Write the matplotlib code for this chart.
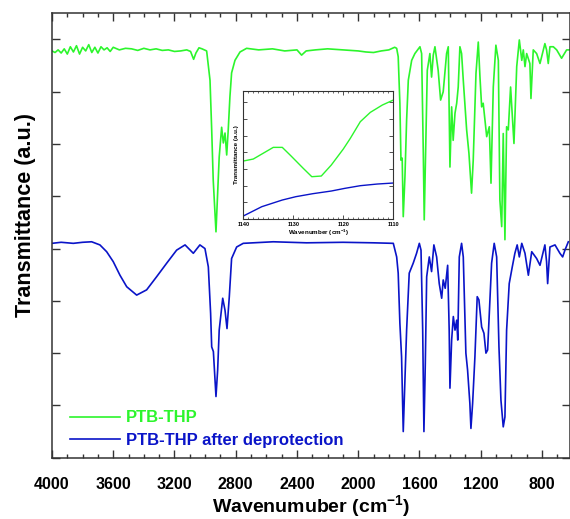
import numpy as np
import matplotlib
matplotlib.use('Agg')
import matplotlib.pyplot as plt
from matplotlib.ticker import MultipleLocator

plt.rcParams['font.family'] = ['Liberation Sans', 'DejaVu Sans']
plt.rcParams['font.weight'] = 'bold'
plt.rcParams['mathtext.fontset'] = 'custom'
plt.rcParams['mathtext.rm'] = 'Liberation Sans:bold'
plt.rcParams['mathtext.bf'] = 'Liberation Sans:bold'
plt.rcParams['mathtext.default'] = 'bf'

GREEN = '#2cf52c'
BLUE = '#0a14c8'

# PTB-THP spectrum (wavenumber cm-1, transmittance a.u.)
green_wn = [4000, 3980, 3960, 3940, 3920, 3900, 3880, 3860, 3840, 3820, 3800, 3780, 3760,
            3740, 3720, 3700, 3680, 3660, 3640, 3620, 3600, 3560, 3520, 3480, 3440, 3400,
            3360, 3320, 3280, 3240, 3200, 3160, 3120, 3095, 3075, 3060, 3040, 3020, 3005,
            2990, 2968, 2957, 2947, 2936, 2929, 2921, 2908, 2892, 2881, 2870, 2859, 2849,
            2838, 2827, 2805, 2772, 2729, 2650, 2560, 2480, 2400, 2370, 2340, 2280, 2200,
            2100, 2000, 1950, 1900, 1850, 1800, 1762,
            1749, 1739, 1728, 1721, 1713, 1706, 1695, 1684, 1673, 1651, 1630, 1597, 1586,
            1575, 1569, 1560, 1549, 1532, 1521, 1510, 1499, 1478, 1462, 1445, 1423, 1412,
            1401, 1390, 1380, 1368, 1357, 1347, 1336, 1325, 1314, 1292, 1277, 1260, 1249,
            1231, 1216, 1205, 1194, 1184, 1161, 1144, 1133, 1118, 1101, 1085, 1075, 1063,
            1053, 1042, 1031, 1020, 1005, 983, 965, 948, 932, 922, 911, 900, 879, 872, 857,
            835, 813, 802, 781, 770, 759, 748, 726, 704, 672, 639, 617]
green_t = [7.78, 7.75, 7.80, 7.74, 7.82, 7.72, 7.86, 7.76, 7.88, 7.72, 7.85, 7.78, 7.90,
           7.75, 7.85, 7.74, 7.86, 7.80, 7.84, 7.77, 7.85, 7.80, 7.83, 7.82, 7.79, 7.83,
           7.80, 7.82, 7.79, 7.80, 7.77, 7.78, 7.80, 7.77, 7.62, 7.74, 7.84, 7.82, 7.80,
           7.78, 7.22, 6.27, 5.31, 4.68, 4.32, 4.87, 5.75, 6.32, 6.02, 6.21, 5.79, 6.27,
           6.90, 7.36, 7.60, 7.76, 7.83, 7.80, 7.82, 7.78, 7.80, 7.70, 7.78, 7.80, 7.82,
           7.80, 7.78, 7.76, 7.75, 7.78, 7.80, 7.85,
           7.83, 7.67, 6.78, 5.69, 5.73, 4.61, 5.37, 6.46, 7.22, 7.60, 7.73, 7.86, 7.73,
           5.82, 4.55, 5.83, 7.41, 7.73, 7.28, 7.70, 7.86, 7.41, 6.84, 7.00, 7.73, 7.86,
           5.56, 6.71, 6.07, 6.59, 6.78, 7.09, 7.86, 7.73, 7.22, 6.27, 5.82, 5.06, 5.69,
           7.35, 7.95, 7.28, 6.71, 6.78, 6.14, 6.33, 5.25, 7.09, 7.89, 7.60, 4.93, 4.42,
           6.20, 4.17, 6.33, 6.27, 7.09, 6.01, 7.48, 7.99, 7.60, 7.80, 7.48, 7.73, 7.54, 6.87, 7.80,
           7.73, 7.54, 7.67, 7.92, 7.80, 7.54, 7.86, 7.86, 7.80, 7.64, 7.80, 7.80]

# PTB-THP after deprotection
blue_wn = [4000, 3940, 3861, 3800, 3741, 3687, 3643, 3600, 3556, 3512, 3447, 3382, 3317,
           3251, 3186, 3131, 3077, 3034, 3001, 2979, 2964, 2957, 2946, 2929, 2918, 2908,
           2885, 2870, 2857, 2842, 2827, 2794, 2751, 2555, 2337, 2100, 1900, 1771,
           1749, 1739, 1728, 1717, 1706, 1695, 1684, 1667, 1641, 1619, 1601, 1590, 1579,
           1571, 1562, 1553, 1536, 1521, 1506, 1488, 1471, 1455, 1445, 1432, 1416, 1406,
           1401, 1390, 1379, 1368, 1357, 1350, 1340, 1325, 1314, 1297, 1286, 1271, 1264,
           1253, 1238, 1223, 1212, 1194, 1179, 1166, 1155, 1144, 1129, 1112, 1096, 1081,
           1068, 1053, 1042, 1031, 1014, 994, 977, 962, 948, 932, 911, 889, 867, 835, 813,
           781, 770, 763, 748, 715, 683, 665, 650, 628]
blue_t = [4.10, 4.12, 4.10, 4.12, 4.13, 4.07, 3.94, 3.75, 3.49, 3.27, 3.11, 3.21, 3.46,
          3.72, 3.97, 4.07, 3.91, 4.07, 4.00, 3.65, 2.76, 2.12, 2.03, 1.17, 1.68, 2.44,
          3.05, 2.82, 2.47, 3.08, 3.81, 4.03, 4.10, 4.13, 4.11, 4.12, 4.11, 4.10,
          3.84, 3.53, 2.57, 1.93, 0.50, 1.49, 2.44, 3.53, 3.72, 3.91, 4.10, 3.97, 2.44,
          0.50, 1.80, 3.46, 3.84, 3.56, 4.07, 3.84, 3.33, 3.05, 3.40, 3.24, 3.68, 2.44,
          1.33, 2.25, 2.70, 2.44, 2.63, 2.25, 3.84, 4.10, 3.84, 2.00, 1.68, 1.04, 0.56,
          1.04, 1.93, 3.08, 3.02, 2.50, 2.38, 2.00, 2.06, 2.76, 3.72, 4.10, 3.84, 2.12,
          1.10, 0.59, 0.78, 2.44, 3.33, 3.65, 3.91, 4.07, 3.84, 4.10, 3.91, 3.49, 3.94, 3.81, 3.68,
          4.07, 3.75, 3.33, 4.03, 4.07, 3.91, 3.84, 3.97, 4.13]

# inset, 1140-1110 cm-1
inset_green_wn = [1140, 1138, 1134, 1132.2, 1130.5, 1128, 1126.3, 1124.4, 1122.4, 1120,
                  1118.6, 1116.6, 1114.6, 1112.2, 1110]
inset_green_t = [3.48, 3.60, 4.30, 4.30, 3.80, 3.04, 2.54, 2.58, 3.24, 4.20, 4.84, 5.84,
                 6.40, 6.84, 7.14]
inset_blue_wn = [1140, 1136.3, 1132.2, 1129.5, 1126.1, 1122.4, 1119.7, 1116.6, 1113.2, 1110]
inset_blue_t = [0.18, 0.74, 1.14, 1.34, 1.52, 1.68, 1.84, 2.00, 2.10, 2.16]

fig = plt.figure(figsize=(5.70, 5.19), dpi=100)
ax = fig.add_axes([0.0912, 0.1181, 0.9080, 0.8563])

ax.plot(green_wn, green_t, color=GREEN, lw=1.2, label='PTB-THP')
ax.plot(blue_wn, blue_t, color=BLUE, lw=1.2, label='PTB-THP after deprotection')

ax.set_xlim(4000, 620)
ax.set_ylim(0, 8.5)
ax.xaxis.set_major_locator(MultipleLocator(400))
ax.xaxis.set_minor_locator(MultipleLocator(100))
ax.yaxis.set_major_locator(MultipleLocator(1))
ax.tick_params(which='both', direction='in', top=True, right=True, color='#333333')
ax.tick_params(which='major', length=6, width=1)
ax.tick_params(which='minor', length=3, width=1)
ax.tick_params(axis='x', labelsize=11.5, pad=14)
ax.tick_params(axis='y', labelleft=False)
for lbl in ax.get_xticklabels():
    lbl.set_fontweight('bold')
for s in ax.spines.values():
    s.set_color('#333333')
    s.set_linewidth(1.1)

ax.set_xlabel('Wavenumuber (cm$^{-1}$)', fontsize=14, fontweight='bold', labelpad=1)
ax.set_ylabel('Transmittance (a.u.)', fontsize=15.5, fontweight='bold')
ax.yaxis.set_label_coords(-0.03, 0.546)

leg = ax.legend(loc='lower left', bbox_to_anchor=(0.035, 0.022), frameon=False,
                prop={'size': 12, 'weight': 'bold'}, handlelength=3.0, handletextpad=0.35,
                borderpad=0, borderaxespad=0, labelspacing=0.45, labelcolor='linecolor')

# inset
ins = fig.add_axes([0.4268, 0.578, 0.2632, 0.2472])
ins.plot(inset_green_wn, inset_green_t, color=GREEN, lw=1.0)
ins.plot(inset_blue_wn, inset_blue_t, color=BLUE, lw=1.0)
ins.set_xlim(1140, 1110)
ins.set_ylim(0, 7.7)
ins.xaxis.set_major_locator(MultipleLocator(10))
ins.xaxis.set_minor_locator(MultipleLocator(1))
ins.yaxis.set_major_locator(MultipleLocator(1))
ins.tick_params(which='both', direction='in', top=True, right=True, color='#333333')
ins.tick_params(which='major', length=3, width=0.6, labelsize=4, pad=2)
ins.tick_params(which='minor', length=1.5, width=0.5)
ins.tick_params(axis='y', labelleft=False)
for lbl in ins.get_xticklabels():
    lbl.set_fontweight('bold')
for s in ins.spines.values():
    s.set_color('#333333')
    s.set_linewidth(0.8)
ins.set_xlabel('Wavenumber (cm$^{-1}$)', fontsize=4.5, fontweight='bold', labelpad=1)
ins.set_ylabel('Transmittance (a.u.)', fontsize=4.5, fontweight='bold', labelpad=3)

fig.savefig('out.png', dpi=100)
